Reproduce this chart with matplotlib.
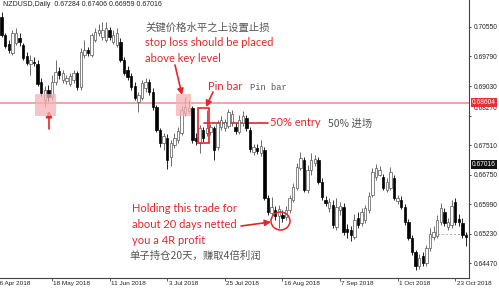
import matplotlib
matplotlib.use("Agg")
import matplotlib.pyplot as plt
import numpy as np
import pandas as pd
from matplotlib.patches import Rectangle, Ellipse
from matplotlib.transforms import ScaledTranslation

# ---------------- data ----------------
title_text = "NZDUSD,Daily  0.67284 0.67406 0.66959 0.67016"
first_axis_day = "2018-04-26"
first_bar_day = "2018-04-30"

opens = [0.7081, 0.7034, 0.7011, 0.6988, 0.7014, 0.7026, 0.7008, 0.6980, 0.6960, 0.6965,
         0.6960, 0.6913, 0.6867, 0.6893, 0.6875, 0.6913, 0.6942, 0.6918, 0.6916, 0.6908,
         0.6918, 0.6937, 0.6900, 0.6983, 0.6996, 0.6983, 0.7021, 0.7039, 0.7029, 0.7021,
         0.7047, 0.7016, 0.7008, 0.7016, 0.6970, 0.6944, 0.6929, 0.6903, 0.6862, 0.6872,
         0.6898, 0.6913, 0.6888, 0.6849, 0.6790, 0.6756, 0.6769, 0.6720, 0.6751, 0.6764,
         0.6782, 0.6834, 0.6839, 0.6846, 0.6769, 0.6756, 0.6790, 0.6782, 0.6785, 0.6795,
         0.6746, 0.6798, 0.6795, 0.6800, 0.6810, 0.6798, 0.6785, 0.6808, 0.6821, 0.6790,
         0.6733, 0.6744, 0.6731, 0.6738, 0.6615, 0.6576, 0.6584, 0.6569, 0.6571, 0.6566,
         0.6584, 0.6610, 0.6641, 0.6692, 0.6713, 0.6636, 0.6687, 0.6705, 0.6713, 0.6656,
         0.6610, 0.6589, 0.6597, 0.6540, 0.6584, 0.6592, 0.6535, 0.6533, 0.6515, 0.6564,
         0.6551, 0.6558, 0.6584, 0.6623, 0.6669, 0.6675, 0.6669, 0.6636, 0.6641, 0.6666,
         0.6607, 0.6610, 0.6592, 0.6553, 0.6512, 0.6476, 0.6440, 0.6466, 0.6448, 0.6486,
         0.6515, 0.6517, 0.6553, 0.6579, 0.6540, 0.6546, 0.6605, 0.6561, 0.6551, 0.6520]
highs = [0.7093, 0.7039, 0.7021, 0.7047, 0.7052, 0.7039, 0.7014, 0.6990, 0.6983, 0.6978,
         0.6970, 0.6924, 0.6903, 0.6906, 0.6931, 0.6970, 0.6952, 0.6944, 0.6931, 0.6937,
         0.6944, 0.6942, 0.7001, 0.7021, 0.7003, 0.7039, 0.7052, 0.7063, 0.7068, 0.7068,
         0.7055, 0.7047, 0.7052, 0.7026, 0.6978, 0.6955, 0.6937, 0.6913, 0.6888, 0.6918,
         0.6924, 0.6921, 0.6898, 0.6854, 0.6795, 0.6782, 0.6780, 0.6764, 0.6782, 0.6798,
         0.6852, 0.6875, 0.6867, 0.6852, 0.6782, 0.6803, 0.6798, 0.6841, 0.6805, 0.6800,
         0.6816, 0.6826, 0.6818, 0.6844, 0.6841, 0.6808, 0.6829, 0.6839, 0.6829, 0.6798,
         0.6754, 0.6754, 0.6764, 0.6746, 0.6623, 0.6618, 0.6594, 0.6597, 0.6584, 0.6594,
         0.6623, 0.6654, 0.6705, 0.6733, 0.6720, 0.6700, 0.6731, 0.6726, 0.6720, 0.6666,
         0.6620, 0.6615, 0.6610, 0.6615, 0.6605, 0.6602, 0.6548, 0.6543, 0.6574, 0.6579,
         0.6589, 0.6597, 0.6630, 0.6692, 0.6703, 0.6697, 0.6677, 0.6666, 0.6695, 0.6674,
         0.6623, 0.6620, 0.6600, 0.6561, 0.6520, 0.6481, 0.6471, 0.6476, 0.6494, 0.6538,
         0.6543, 0.6571, 0.6602, 0.6589, 0.6564, 0.6610, 0.6615, 0.6574, 0.6564, 0.6528]
lows = [0.7029, 0.7001, 0.6988, 0.6983, 0.7008, 0.7006, 0.6970, 0.6957, 0.6931, 0.6955,
        0.6903, 0.6877, 0.6849, 0.6864, 0.6867, 0.6906, 0.6921, 0.6911, 0.6908, 0.6903,
        0.6911, 0.6893, 0.6893, 0.6975, 0.6980, 0.6978, 0.7016, 0.7032, 0.7021, 0.7016,
        0.7021, 0.7011, 0.7003, 0.6965, 0.6931, 0.6918, 0.6893, 0.6867, 0.6836, 0.6867,
        0.6888, 0.6880, 0.6841, 0.6785, 0.6746, 0.6738, 0.6690, 0.6697, 0.6744, 0.6756,
        0.6777, 0.6826, 0.6834, 0.6756, 0.6751, 0.6731, 0.6759, 0.6774, 0.6777, 0.6713,
        0.6738, 0.6790, 0.6787, 0.6795, 0.6800, 0.6780, 0.6780, 0.6800, 0.6787, 0.6733,
        0.6726, 0.6728, 0.6723, 0.6610, 0.6571, 0.6569, 0.6558, 0.6538, 0.6553, 0.6558,
        0.6576, 0.6605, 0.6636, 0.6687, 0.6630, 0.6628, 0.6675, 0.6697, 0.6651, 0.6610,
        0.6594, 0.6579, 0.6538, 0.6533, 0.6571, 0.6520, 0.6512, 0.6504, 0.6510, 0.6538,
        0.6543, 0.6551, 0.6576, 0.6618, 0.6661, 0.6672, 0.6636, 0.6630, 0.6636, 0.6610,
        0.6600, 0.6587, 0.6546, 0.6507, 0.6468, 0.6430, 0.6432, 0.6440, 0.6440, 0.6479,
        0.6507, 0.6512, 0.6546, 0.6543, 0.6533, 0.6538, 0.6546, 0.6543, 0.6512, 0.6491]
closes = [0.7034, 0.7006, 0.6996, 0.7039, 0.7039, 0.7016, 0.6975, 0.6962, 0.6970, 0.6962,
          0.6908, 0.6885, 0.6893, 0.6875, 0.6913, 0.6939, 0.6931, 0.6937, 0.6924, 0.6929,
          0.6937, 0.6900, 0.6990, 0.6996, 0.6988, 0.7034, 0.7042, 0.7047, 0.7047, 0.7052,
          0.7029, 0.7034, 0.7039, 0.6970, 0.6937, 0.6926, 0.6900, 0.6872, 0.6880, 0.6911,
          0.6913, 0.6888, 0.6849, 0.6790, 0.6756, 0.6774, 0.6713, 0.6756, 0.6769, 0.6787,
          0.6841, 0.6849, 0.6846, 0.6764, 0.6762, 0.6795, 0.6769, 0.6795, 0.6798, 0.6738,
          0.6808, 0.6816, 0.6810, 0.6836, 0.6831, 0.6787, 0.6816, 0.6826, 0.6795, 0.6741,
          0.6746, 0.6736, 0.6749, 0.6615, 0.6579, 0.6592, 0.6569, 0.6587, 0.6564, 0.6584,
          0.6615, 0.6643, 0.6695, 0.6718, 0.6636, 0.6687, 0.6713, 0.6715, 0.6656, 0.6618,
          0.6602, 0.6605, 0.6546, 0.6592, 0.6594, 0.6528, 0.6528, 0.6520, 0.6558, 0.6546,
          0.6579, 0.6589, 0.6620, 0.6682, 0.6692, 0.6687, 0.6641, 0.6656, 0.6682, 0.6615,
          0.6615, 0.6592, 0.6553, 0.6512, 0.6476, 0.6440, 0.6461, 0.6448, 0.6486, 0.6522,
          0.6528, 0.6558, 0.6589, 0.6551, 0.6553, 0.6594, 0.6553, 0.6553, 0.6520, 0.6515]

y_ticks = [0.70550, 0.69790, 0.69030, 0.68270, 0.67510, 0.66750, 0.65990, 0.65230, 0.64470]
x_tick_dates = ["2018-04-26", "2018-05-18", "2018-06-11", "2018-07-03", "2018-07-25",
                "2018-08-16", "2018-09-07", "2018-10-01", "2018-10-23"]
key_level = 0.68604
last_price = 0.67016
grey_level = 0.6522

# ---------------- figure ----------------
W, H = 499, 291
fig = plt.figure(figsize=(W / 100, H / 100), dpi=100)
fig.patch.set_facecolor("white")
ax = fig.add_axes([0, 13 / H, 469 / W, 278 / H])
ax.set_facecolor("white")

bar_dates = pd.bdate_range(first_bar_day, periods=len(opens))
xpos = np.busday_count(np.datetime64(first_axis_day),
                       bar_dates.values.astype("datetime64[D]")).astype(float)
o = np.array(opens); h = np.array(highs); l = np.array(lows); c = np.array(closes)
up = c >= o

ax.vlines(xpos[up], l[up], h[up], color="#555555", lw=0.6, zorder=3)
ax.vlines(xpos[~up], l[~up], h[~up], color="black", lw=0.6, zorder=3)
body_w = 0.62
ax.bar(xpos[up], np.maximum(c[up] - o[up], 0.00005), bottom=o[up], width=body_w,
       color="white", edgecolor="#555555", lw=0.5, zorder=4)
ax.bar(xpos[~up], np.maximum(o[~up] - c[~up], 0.00005), bottom=c[~up], width=body_w,
       color="black", edgecolor="black", lw=0.5, zorder=4)

ax.set_xlim(1.556, 131.83)
ax.set_ylim(0.64092, 0.71242)

# spines
for s in ["top", "left"]:
    ax.spines[s].set_visible(False)
for s in ["right", "bottom"]:
    ax.spines[s].set_color("#444444")
    ax.spines[s].set_linewidth(0.8)

# y axis
ax.yaxis.tick_right()
ax.set_yticks(y_ticks)
ax.set_yticklabels([f"{v:.5f}" for v in y_ticks], family="Liberation Sans")
ax.tick_params(axis="y", direction="out", length=1.5, width=0.6, pad=2,
               labelsize=4.8, colors="#222222")
for lab, v in zip(ax.get_yticklabels(), y_ticks):
    if abs(v - 0.68270) < 1e-6:
        lab.set_transform(lab.get_transform() + ScaledTranslation(0, 8 / 100, fig.dpi_scale_trans))

# x axis
tick_idx = [int(np.busday_count(np.datetime64(first_axis_day), np.datetime64(d))) for d in x_tick_dates]
vis = [t for t in tick_idx if 1.556 <= t <= 131.83]
ax.set_xticks(vis)
ax.set_xticklabels([""] * len(vis))
ax.tick_params(axis="x", direction="out", length=2, width=0.6, colors="#444444")
for d, t in zip(x_tick_dates, tick_idx):
    dd = pd.Timestamp(d)
    ax.annotate(f"{dd.day} {dd:%b %Y}", xy=(t, 0), xycoords=("data", "axes fraction"),
                xytext=(1.0, -2.2), textcoords="offset points", ha="left", va="top",
                fontsize=4.6, family="Liberation Sans", color="#222222",
                annotation_clip=False)

# key level line + price boxes
ax.axhline(key_level, color="#f29494", lw=1.2, zorder=2)
ax.annotate(f"{key_level:.5f}", xy=(1.0, key_level), xycoords=("axes fraction", "data"),
            xytext=(2.2, 0), textcoords="offset points", ha="left", va="center",
            fontsize=4.8, family="Liberation Sans", color="white",
            bbox=dict(boxstyle="square,pad=0.18", fc="#e8312e", ec="none"),
            annotation_clip=False)
ax.annotate(f"{last_price:.5f}", xy=(1.0, last_price), xycoords=("axes fraction", "data"),
            xytext=(2.2, 0), textcoords="offset points", ha="left", va="center",
            fontsize=4.8, family="Liberation Sans", color="white",
            bbox=dict(boxstyle="square,pad=0.18", fc="#111111", ec="none"),
            annotation_clip=False)

ax.hlines(grey_level, 123.2, 131.83, colors="#aaaaaa", lw=0.7, linestyles=(0, (2, 2)), zorder=2)


def px(x, y):
    return (x, H - y)


red = "#e3262a"
grey = "#555555"

# pink key-level zones
for x0, x1 in [(35, 56), (176, 191)]:
    fig.add_artist(Rectangle(px(x0, 116), x1 - x0, 22, transform=None,
                             fc="#f6b1b5", ec="none", alpha=0.75, zorder=1))

# pin bar rectangle
fig.add_artist(Rectangle(px(198, 143), 11, 35, transform=None,
                         fc="none", ec=red, lw=1.2, zorder=6))
# circle
fig.add_artist(Ellipse(px(280.5, 221), 19, 18, transform=None,
                       fc="none", ec=red, lw=1.1, zorder=6))


def arrow(x0, y0, x1, y1):
    ax.annotate("", xy=px(x1, y1), xycoords="figure pixels", xytext=px(x0, y0),
                textcoords="figure pixels",
                arrowprops=dict(arrowstyle="-|>,head_length=0.35,head_width=0.18",
                                color=red, lw=1.2, shrinkA=0, shrinkB=0),
                annotation_clip=False, zorder=7)


def txt(x, y, s, color, size, family, ha="left"):
    ax.annotate(s, xy=px(x, y), xycoords="figure pixels", ha=ha, va="center",
                color=color, fontsize=size, family=family, annotation_clip=False, zorder=8)


arrow(49, 129, 49, 111)
arrow(175, 65, 182, 95)
arrow(213, 92, 206, 107)
arrow(241, 226, 271, 222)

# 50% entry line
ax.annotate("", xy=px(268, 123), xycoords="figure pixels", xytext=px(204, 123),
            textcoords="figure pixels",
            arrowprops=dict(arrowstyle="-", color=red, lw=1.2, shrinkA=0, shrinkB=0),
            annotation_clip=False)

cjk = ["Noto Sans CJK SC", "DejaVu Sans"]
lat = ["Lato", "DejaVu Sans"]
txt(3, 4.5, title_text, "#222222", 5, ["Liberation Sans"])
txt(145, 28, "关键价格水平之上设置止损", grey, 7.5, cjk)
txt(145, 42, "stop loss should be placed", red, 8, lat)
txt(145, 58, "above key level", red, 8, lat)
txt(208, 86, "Pin bar", red, 8, lat)
txt(250, 87, "Pin bar", grey, 6.3, ["Liberation Mono"])
txt(270, 123, "50% entry", red, 8, lat)
txt(328, 124, "50% 进场", grey, 7.5, cjk)
txt(132, 209, "Holding this trade for", red, 8, lat)
txt(132, 224, "about 20 days netted", red, 8, lat)
txt(132, 240, "you a 4R profit", red, 8, lat)
txt(129, 256, "单子持仓20天，赚取4倍利润", grey, 7.5, cjk)

fig.savefig("out.png", dpi=100, facecolor="white")
